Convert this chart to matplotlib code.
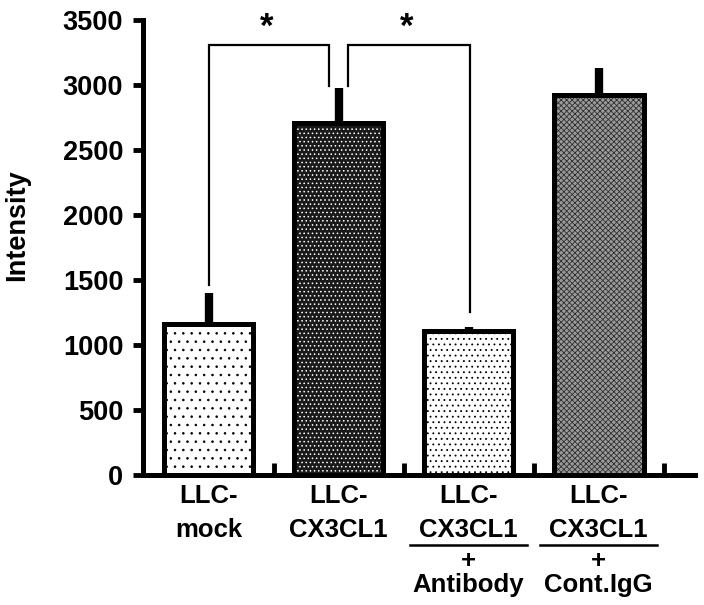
import matplotlib
matplotlib.use('Agg')
import matplotlib.pyplot as plt
import matplotlib.transforms as mtransforms

plt.rcParams['font.family'] = ['Liberation Sans', 'DejaVu Sans']
plt.rcParams['font.weight'] = 'bold'
plt.rcParams['hatch.linewidth'] = 0.6

# data
groups = ['LLC-\nmock', 'LLC-\nCX3CL1', 'LLC-\nCX3CL1', 'LLC-\nCX3CL1']
extra = ['', '', 'Antibody', 'Cont.IgG']
means = [1160, 2705, 1104, 2927]
errors = [242, 272, 34, 204]
y_ticks = [0, 500, 1000, 1500, 2000, 2500, 3000, 3500]

# significance brackets: (x left, x right, left leg bottom, right leg bottom)
brackets = [(0.0, 0.93, 1460, 2992), (1.07, 2.01, 2992, 1250)]
bracket_top = 3308
stars_x = [0.45, 1.52]
stars_y = 3440

faces = ['white', '#1a1a1a', 'white', '#9a9a9a']
hatch_cols = ['black', 'white', 'black', '#303030']
hatches = ['..', '....', '...', 'xxxxxx']

fig = plt.figure(figsize=(7.04, 6.05), dpi=100)
ax = fig.add_axes([0.2031, 0.2149, 0.784, 0.752])

x = list(range(len(means)))
for i in x:
    ax.bar(x[i], means[i], width=0.69, color=faces[i], edgecolor=hatch_cols[i],
           hatch=hatches[i], linewidth=0, zorder=2)
ax.bar(x, means, width=0.69, fill=False, edgecolor='black', linewidth=3.6, zorder=3)
ax.errorbar(x, means, yerr=[[0] * len(means), errors], fmt='none', ecolor='black',
            elinewidth=6, capsize=0, zorder=1)

for xl, xr, yl, yr in brackets:
    ax.plot([xl, xl, xr, xr], [yl, bracket_top, bracket_top, yr], color='black',
            lw=1.6, clip_on=False, solid_joinstyle='miter')
for sx in stars_x:
    ax.text(sx, stars_y, '*', ha='center', va='center', fontsize=25,
            fontweight='bold', clip_on=False)

ax.set_xlim(-0.504, 3.74)
ax.set_ylim(0, 3500)
ax.set_yticks(y_ticks)
ax.tick_params(axis='y', direction='out', length=7.2, width=3.5, labelsize=19.5, pad=7)
ax.set_xticks([0.5, 1.5, 2.5, 3.5])
ax.set_xticklabels([])
ax.tick_params(axis='x', direction='in', length=9, width=3.5)
for lab in ax.get_yticklabels():
    lab.set_fontweight('bold')
for side in ['top', 'right']:
    ax.spines[side].set_visible(False)
ax.spines['left'].set_linewidth(3.6)
ax.spines['bottom'].set_linewidth(3.6)
ax.set_ylabel('Intensity', fontsize=19.5, fontweight='bold')
ax.yaxis.set_label_coords(-0.204, 0.55)

# category labels below the axis
trans = mtransforms.blended_transform_factory(ax.transData, fig.transFigure)
for i, g in enumerate(groups):
    top, bottom = g.split('\n')
    ax.text(x[i], 0.1686, top, transform=trans, ha='center', va='baseline',
            fontsize=18.5, fontweight='bold')
    ax.text(x[i], 0.1124, bottom, transform=trans, ha='center', va='baseline',
            fontsize=18.5, fontweight='bold')
    if extra[i]:
        ax.plot([x[i] - 0.45, x[i] + 0.45], [0.0992, 0.0992], transform=trans,
                color='black', lw=1.8, clip_on=False)
        ax.text(x[i], 0.061, '+', transform=trans, ha='center', va='baseline',
                fontsize=18.5, fontweight='bold')
        ax.text(x[i], 0.0215, extra[i], transform=trans, ha='center', va='baseline',
                fontsize=18.5, fontweight='bold')

fig.savefig('out.png', dpi=100)
